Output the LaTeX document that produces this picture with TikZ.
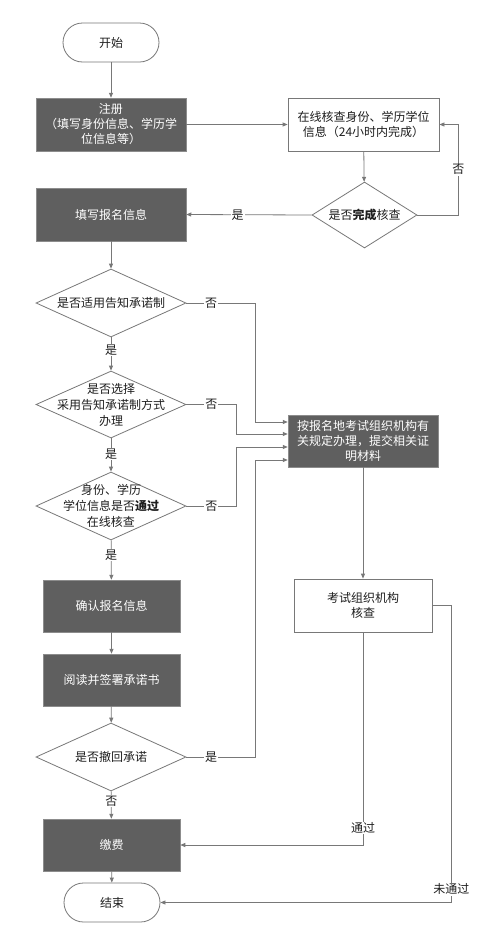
\documentclass[tikz,border=0pt]{standalone}
\usepackage{fontspec}
\setmainfont{Noto Sans CJK SC}
\usetikzlibrary{shapes.geometric,arrows.meta,calc}
\definecolor{darkbox}{RGB}{95,95,95}
\definecolor{linec}{RGB}{120,120,120}
\definecolor{txtc}{RGB}{30,30,30}
\tikzset{
  base/.style={font=\fontsize{12}{15}\selectfont, inner sep=0pt, align=center},
  term/.style={base, draw=linec, line width=0.8pt, rounded corners=19.5pt, minimum width=96pt, minimum height=39pt, text=txtc},
  darkproc/.style={base, fill=darkbox, draw=black!45, line width=0.5pt, text=white, minimum height=53pt},
  whiteproc/.style={base, draw=linec, line width=0.8pt, fill=white, text=txtc, minimum height=53pt},
  dia/.style={draw=linec, line width=0.8pt, shape=diamond, inner sep=0pt, minimum width=150pt, minimum height=68pt},
  diatext/.style={base, text=txtc, font=\fontsize{12}{16}\selectfont},
  arr/.style={draw=linec, line width=0.8pt, -{Triangle[length=5pt,width=4pt]}},
  lbl/.style={base, fill=white, text=txtc, inner sep=1pt},
}
\begin{document}
\begin{tikzpicture}[x=1pt,y=-1pt]
\useasboundingbox[fill=white] (0,0) rectangle (492,940);

% nodes
\node[term] (start) at (111,42.5) {开始};
\node[darkproc, minimum width=150pt] (reg) at (111,124.5) {注册\\（填写身份信息、学历学\\位信息等）};
\node[whiteproc, minimum width=151pt] (check) at (363.5,124.5) {在线核查身份、学历学位\\信息（24小时内完成）};
\node[dia, minimum width=105pt, minimum height=66pt] (d0) at (364.5,215) {};
\node[diatext] (d0t) at (d0) {是否\textbf{完成}核查};
\node[darkproc, minimum width=150pt] (fill) at (111,214.5) {填写报名信息};
\node[dia] (d1) at (111,303) {};
\node[diatext] (d1t) at (d1) {是否适用告知承诺制};
\node[dia, minimum height=67pt] (d2) at (111,404.5) {};
\node[diatext] (d2t) at (d2) {是否选择\\采用告知承诺制方式\\办理};
\node[dia] (d3) at (111,506) {};
\node[diatext] (d3t) at (d3) {身份、学历\\学位信息是否\textbf{通过}\\在线核查};
\node[darkproc, minimum width=137pt, minimum height=52pt] (confirm) at (111.5,606) {确认报名信息};
\node[darkproc, minimum width=137pt, minimum height=52pt] (read) at (111.5,680) {阅读并签署承诺书};
\node[dia] (d4) at (111,757) {};
\node[diatext] (d4t) at (d4) {是否撤回承诺};
\node[darkproc, minimum width=137pt, minimum height=52pt] (pay) at (111.5,845) {缴费};
\node[term] (end) at (112,902.5) {结束};
\node[darkproc, minimum width=150pt, minimum height=52pt] (alt) at (363,441) {按报名地考试组织机构有\\关规定办理，提交相关证\\明材料};
\node[whiteproc, minimum width=138pt] (rev) at (363,605.5) {考试组织机构\\核查};

\coordinate (a1) at ([yshift=19pt]alt.west);
\coordinate (a2) at ([yshift=7pt]alt.west);
\coordinate (a3) at ([yshift=-6pt]alt.west);
\coordinate (a4) at ([yshift=-19pt]alt.west);

% connectors
\draw[arr] (start) -- (reg);
\draw[arr] (reg.east) -- (check.west);
\draw[arr] (check) -- (d0);
\draw[arr] (d0.east) -- ++(41,0) |- node[lbl, pos=0.25]{否} (check.east);
\draw[arr] (d0.west) -- node[lbl, pos=0.59]{是} (fill.east);
\draw[arr] (fill) -- (d1);
\draw[arr] (d1) -- node[lbl, pos=0.38]{是} (d2);
\draw[arr] (d2) -- node[lbl, pos=0.47]{是} (d3);
\draw[arr] (d3) -- node[lbl, pos=0.375]{是} (confirm);
\draw[arr] (confirm) -- (read);
\draw[arr] (read) -- (d4);
\draw[arr] (d4) -- node[lbl, pos=0.36]{否} (pay);
\draw[arr] (pay) -- (end);

\draw[arr] (d1.east) -- node[lbl, pos=0.36]{否} ++(69,0) |- (a1);
\draw[arr] (d2.east) -- node[lbl, pos=0.5]{否} ++(50,0) |- (a2);
\draw[arr] (d3.east) -- node[lbl, pos=0.5]{否} ++(50,0) |- (a3);
\draw[arr] (d4.east) -- node[lbl, pos=0.36]{是} ++(69,0) |- (a4);

\draw[arr] (alt) -- (rev);
\draw[arr] (rev.south) |- node[lbl, pos=0.46]{通过} (pay.east);
\draw[arr] (rev.east) -- ++(19,0) |- node[lbl, pos=0.478]{未通过} (end.east);
\end{tikzpicture}
\end{document}
